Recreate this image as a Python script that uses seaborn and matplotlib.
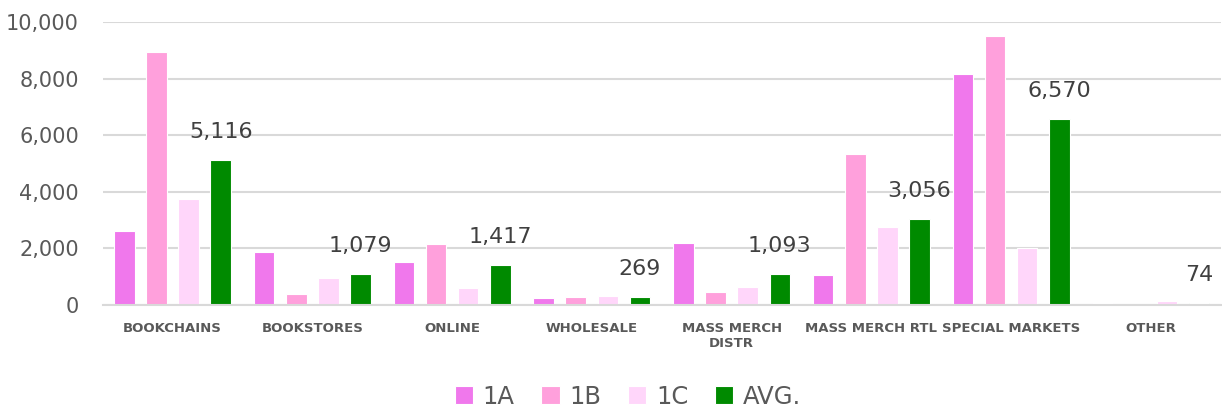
import pandas as pd
import matplotlib.pyplot as plt
import seaborn as sns

# data
channels = ['BOOKCHAINS', 'BOOKSTORES', 'ONLINE', 'WHOLESALE', 'MASS MERCH\nDISTR',
            'MASS MERCH RTL', 'SPECIAL MARKETS', 'OTHER']
series = ['1A', '1B', '1C', 'AVG.']
v_1a = [2620, 1870, 1510, 230, 2190, 1070, 8180, 70]
v_1b = [8970, 400, 2150, 265, 440, 5340, 9520, 0]
v_1c = [3758, 967, 591, 312, 649, 2758, 2010, 152]
v_avg = [5116, 1079, 1417, 269, 1093, 3056, 6570, 74]

colors = {'1A': '#F078EC', '1B': '#FFA0DC', '1C': '#FFD6FA', 'AVG.': '#008A00'}

df = pd.DataFrame({'canal': channels * 4,
                   'serie': sum([[s] * len(channels) for s in series], []),
                   'valor': v_1a + v_1b + v_1c + v_avg})

sns.set_style('white')
plt.rcParams['font.family'] = ['DejaVu Sans']

fig, ax = plt.subplots(figsize=(12.22, 4.16), dpi=100)
fig.subplots_adjust(left=0.084, right=0.999, top=0.946, bottom=0.267)

sns.barplot(data=df, x='canal', y='valor', hue='serie', hue_order=series,
            palette=colors, width=0.92, gap=0.36, ax=ax, saturation=1,
            linewidth=0.8, edgecolor='white')

# rótulo só na média
ax.bar_label(ax.containers[3], labels=[f'{v:,}' for v in v_avg],
             padding=13, fontsize=16, color='#404040')

ax.set_ylim(0, 10000)
ax.set_xlim(-0.5, 7.5)
ax.set_yticks(range(0, 10001, 2000))
ax.set_yticklabels([f'{v:,}' for v in range(0, 10001, 2000)], fontsize=15, color='#595959')
ax.tick_params(axis='y', length=0, pad=17)
ax.tick_params(axis='x', length=0, pad=12)
for lab in ax.get_xticklabels():
    lab.set_fontsize(9.5)
    lab.set_fontweight('bold')
    lab.set_color('#595959')
    lab.set_verticalalignment('top')
ax.set_xlabel('')
ax.set_ylabel('')
ax.grid(axis='y', color='#D9D9D9', linewidth=1.5)
ax.set_axisbelow(True)
for s in ['top', 'right', 'left']:
    ax.spines[s].set_visible(False)
ax.spines['bottom'].set_color('#D9D9D9')
ax.spines['bottom'].set_linewidth(1.5)

handles, labels = ax.get_legend_handles_labels()
ax.legend_.remove()
fig.legend(handles, labels, loc='lower center', bbox_to_anchor=(0.514, -0.035), ncol=4,
           frameon=False, fontsize=17.5, handlelength=0.75, handleheight=0.75,
           handletextpad=0.4, columnspacing=1.1, labelcolor='#595959')

fig.savefig('out.png', dpi=100)
